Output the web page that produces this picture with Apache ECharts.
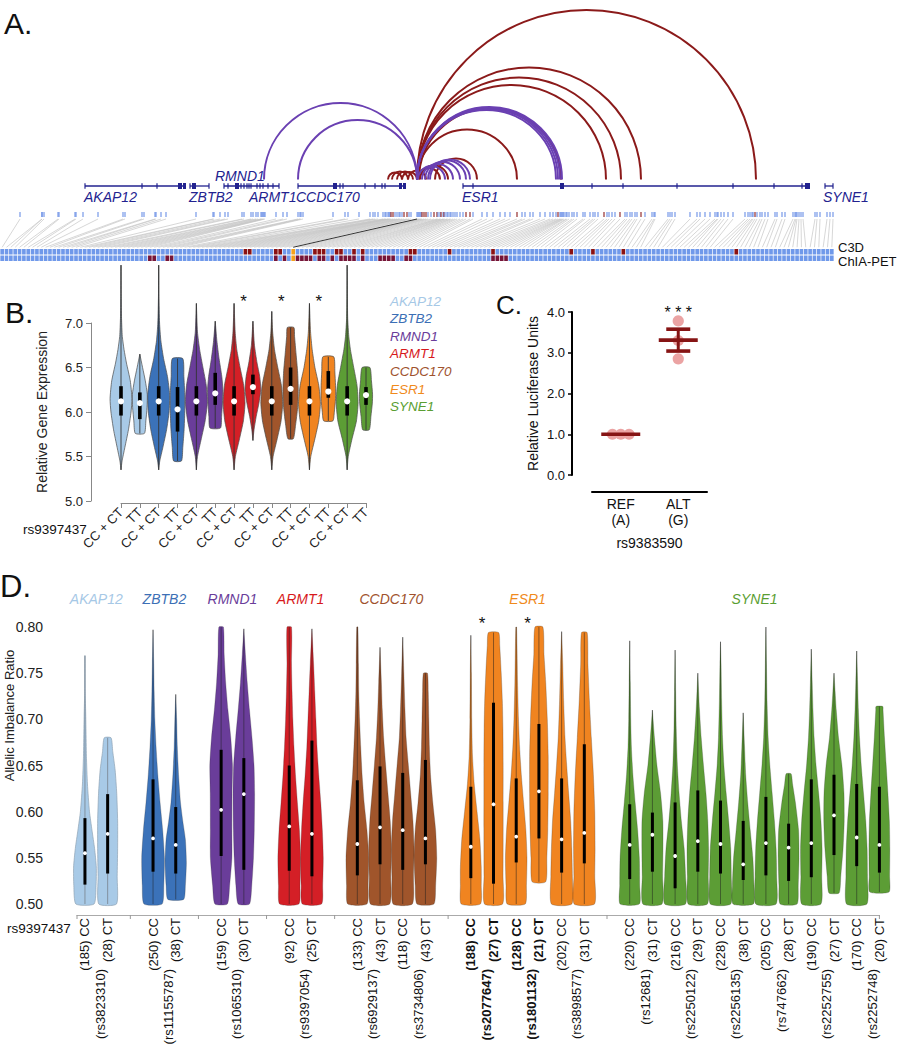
<!DOCTYPE html>
<html><head><meta charset="utf-8">
<script src="https://cdn.jsdelivr.net/npm/echarts@6/dist/echarts.min.js"></script>
<style>html,body{margin:0;padding:0;background:#fff}#c{width:899px;height:1050px}</style>
</head><body><div id="c"></div>
<script>
// ================= DATA =================
const geneNames = ['AKAP12','ZBTB2','RMND1','ARMT1','CCDC170','ESR1','SYNE1'];

// ---- Panel A (positions along the locus, arbitrary kb units) ----
const geneSpans = [[85,186],[190,209],[224,279],[298,406],[463,810],[825,833]];
const geneLabels = [['AKAP12',84,0],['ZBTB2',189,0],['RMND1',215,1],['ARMT1',249,0],['CCDC170',296,0],['ESR1',462,0],['SYNE1',823,0]];
const exonTicks = [85,142,157,190,209,224,228,241,244,247,249,251,257,260,263,268,273,279,298,340,343,365,375,382,385,463,473,592,623,677,733,774,802,825,833];
const exonBlocks = [[178,182],[183,186],[192,196],[235,239],[333,337],[399,402],[403,406],[560,564],[805,810]];
// loops: [anchor1, anchor2, source]  source 0 = C3D, 1 = ChIA-PET
const loops = [
  [417,756,0],[417,641,0],[417,621,0],[417,606,0],[417,517,0],[419,561,0],
  [435,477,0],[420,448,0],[417,440,0],[388,402,0],[392,408,0],[397,413,0],[402,417,0],[408,426,0],
  [264,417,1],[298,417,1],[417,556,1],[417,558,1],[417,560,1],[417,562,1],
  [430,470,1],[428,466,1],[425,460,1],[422,453,1],[418,445,1]
];
const snpPos = [
  20,42,42,44,58,59,75,76,83,98,123,125,142,144,155,156,161,166,196,213,214,220,225,228,242,244,251,253,256,258,261,262,263,264,
  265,276,283,287,298,300,301,303,333,345,348,359,370,373,375,378,383,385,386,388,389,390,
  391,393,395,397,399,400,402,404,407,409,411,
  417,
  418,419,420,421,422,424,426,428,431,434,437,438,440,441,443,444,445,447,448,450,451,453,455,457,460,463,466,470,473,482,487,493,500,505,510,
  517,
  522,525,530,533,540,545,550,553,556,
  558,
  560,561,562,563,564,566,567,569,572,574,577,583,585,590,593,595,598,
  604,
  607,609,612,615,
  620,
  625,627,630,632,635,637,
  641,
  645,652,654,655,668,670,672,675,690,697,700,705,710,715,717,718,721,724,728,733,745,748,750,752,753,
  755,
  757,760,762,765,768,775,777,782,785,793,795,796,797,799,801,803,815,817,820,827,830,833
];
const trackNames = ['C3D','ChIA-PET'];
const c3dHits = [56,57,63,64,72,73,74,77,78,81,83,94,95,103,113,131,136,143,169];
const chiaHits = [34,35,38,39,63,65,68,69,70,71,73,74,76,78,79,80,81,83,87,88,89,90,93,94,113,114,115,116];
const leadSnp = 67;

// ---- Panel B ----
const bLabels = ['CC + CT','TT','CC + CT','TT','CC + CT','TT','CC + CT','TT','CC + CT','TT','CC + CT','TT','CC + CT','TT'];
const bGene = [0,0,1,1,2,2,3,3,4,4,5,5,6,6];
const bMedian = [6.12,6.10,6.12,6.03,6.12,6.21,6.12,6.28,6.12,6.26,6.12,6.23,6.12,6.19];
const bQ1 = [5.96,5.92,5.96,5.78,5.96,6.08,5.96,6.20,5.96,6.08,5.96,6.16,5.96,6.08];
const bQ3 = [6.29,6.22,6.29,6.28,6.29,6.44,6.29,6.42,6.29,6.50,6.29,6.46,6.29,6.28];
const bSigGenes = [3,4,5];
// violin outlines: [value, relative density]
const bShapes = [
  [[5.35,0],[5.45,0.1],[5.6,0.35],[5.8,0.68],[6.0,0.92],[6.15,1.0],[6.35,0.85],[6.55,0.5],[6.7,0.28],[6.85,0.12],[7.05,0.05],[7.3,0.02],[7.65,0]],
  [[5.76,0.42],[5.9,0.55],[6.05,0.66],[6.2,0.68],[6.35,0.5],[6.5,0.25],[6.65,0]],
  [[5.35,0],[5.45,0.1],[5.6,0.38],[5.8,0.72],[6.0,0.95],[6.2,1.0],[6.4,0.8],[6.6,0.45],[6.8,0.2],[7.0,0.08],[7.3,0.02],[7.65,0]],
  [[5.45,0.36],[5.6,0.48],[5.8,0.6],[6.0,0.66],[6.2,0.66],[6.4,0.58],[6.6,0.48]],
  [[5.35,0],[5.5,0.1],[5.7,0.45],[5.9,0.8],[6.1,1.0],[6.3,0.9],[6.5,0.6],[6.7,0.3],[6.9,0.1],[7.22,0]],
  [[5.82,0.48],[5.95,0.58],[6.1,0.66],[6.25,0.7],[6.4,0.6],[6.6,0.35],[6.8,0.15],[7.02,0]],
  [[5.35,0],[5.5,0.12],[5.7,0.5],[5.9,0.85],[6.1,1.0],[6.3,0.88],[6.5,0.55],[6.7,0.25],[6.9,0.1],[7.22,0]],
  [[5.68,0],[5.8,0.1],[5.95,0.3],[6.1,0.55],[6.25,0.72],[6.4,0.62],[6.55,0.38],[6.75,0.14],[7.02,0]],
  [[5.35,0],[5.5,0.12],[5.7,0.5],[5.9,0.85],[6.1,1.0],[6.3,0.88],[6.5,0.55],[6.7,0.25],[6.9,0.08],[7.13,0]],
  [[5.7,0.25],[5.85,0.45],[6.05,0.64],[6.25,0.7],[6.45,0.64],[6.65,0.5],[6.85,0.36],[6.95,0.3]],
  [[5.35,0],[5.5,0.12],[5.7,0.5],[5.9,0.85],[6.1,1.0],[6.3,0.85],[6.5,0.5],[6.7,0.25],[6.9,0.1],[7.22,0]],
  [[5.9,0.42],[6.0,0.55],[6.15,0.66],[6.3,0.66],[6.45,0.6],[6.62,0.5]],
  [[5.35,0],[5.5,0.1],[5.7,0.45],[5.9,0.85],[6.1,1.0],[6.3,0.9],[6.5,0.6],[6.7,0.3],[6.85,0.15],[7.05,0.05],[7.3,0.02],[7.65,0]],
  [[5.8,0.3],[5.95,0.45],[6.1,0.58],[6.2,0.6],[6.35,0.5],[6.5,0.36]]
];

// ---- Panel C ----
const lucCats = ['REF\n(A)','ALT\n(G)'];
const lucREF = [1.0,1.0,1.0];
const lucALT = [3.78,3.30,2.85];

// ---- Panel D ----
const dPairGene = [0,1,2,3,4,4,5,5,5,6,6,6,6,6,6];
const dPairRs = ['rs3823310','rs11155787','rs1065310','rs9397054','rs6929137','rs3734806','rs2077647','rs1801132','rs3898577','rs12681','rs2250122','rs2256135','rs747662','rs2252755','rs2252748'];
const dNcc = [185,250,159,92,133,118,188,128,202,220,216,228,205,190,170];
const dNct = [28,38,30,25,43,43,27,21,31,31,29,38,28,27,20];
const dSigPairs = [6,7];
const dMedian = [0.555,0.576, 0.571,0.564, 0.602,0.619, 0.584,0.576, 0.565,0.583, 0.580,0.571, 0.562,0.608, 0.573,0.622, 0.570,0.577, 0.564,0.575, 0.552,0.568, 0.565,0.543, 0.566,0.561, 0.566,0.596, 0.572,0.564];
const dQ1 = [0.521,0.533, 0.535,0.533, 0.552,0.537, 0.536,0.530, 0.531,0.543, 0.537,0.543, 0.528,0.522, 0.545,0.571, 0.534,0.544, 0.527,0.535, 0.517,0.535, 0.533,0.526, 0.531,0.525, 0.529,0.553, 0.541,0.534];
const dQ3 = [0.593,0.619, 0.635,0.605, 0.667,0.658, 0.650,0.677, 0.634,0.649, 0.642,0.656, 0.627,0.718, 0.636,0.695, 0.636,0.673, 0.608,0.599, 0.610,0.623, 0.612,0.590, 0.616,0.587, 0.635,0.640, 0.630,0.627];
const dShapes = [
  [[0.5,0.8],[0.52,0.98],[0.54,1.0],[0.56,0.85],[0.58,0.62],[0.6,0.4],[0.63,0.22],[0.66,0.13],[0.69,0.09],[0.71,0.06],[0.73,0.02],[0.769,0]],
  [[0.5,0.78],[0.53,0.84],[0.56,0.88],[0.59,0.88],[0.62,0.8],[0.645,0.66],[0.665,0.45],[0.68,0.3]],
  [[0.5,0.8],[0.52,0.95],[0.55,1.0],[0.58,0.85],[0.61,0.62],[0.64,0.42],[0.67,0.27],[0.7,0.16],[0.73,0.1],[0.76,0.06],[0.797,0]],
  [[0.505,0.7],[0.52,0.85],[0.545,0.94],[0.57,0.85],[0.59,0.62],[0.61,0.42],[0.64,0.25],[0.67,0.14],[0.7,0.08],[0.727,0]],
  [[0.5,0.55],[0.52,0.75],[0.55,0.95],[0.58,0.95],[0.62,0.96],[0.65,1.0],[0.68,0.85],[0.71,0.6],[0.74,0.4],[0.77,0.27],[0.8,0.2]],
  [[0.5,0.5],[0.52,0.7],[0.55,0.85],[0.58,0.92],[0.62,0.95],[0.65,0.9],[0.68,0.72],[0.71,0.5],[0.74,0.3],[0.77,0.14],[0.798,0]],
  [[0.5,0.85],[0.52,0.95],[0.55,1.0],[0.58,0.9],[0.61,0.72],[0.64,0.55],[0.67,0.42],[0.7,0.32],[0.73,0.25],[0.76,0.2],[0.8,0.2]],
  [[0.5,0.85],[0.52,0.95],[0.55,1.0],[0.58,0.92],[0.61,0.78],[0.64,0.6],[0.67,0.45],[0.7,0.35],[0.73,0.25],[0.76,0.15],[0.798,0]],
  [[0.5,0.85],[0.52,0.95],[0.55,1.0],[0.58,0.85],[0.61,0.6],[0.64,0.42],[0.67,0.3],[0.7,0.2],[0.73,0.13],[0.76,0.1],[0.8,0.05]],
  [[0.5,0.85],[0.53,0.95],[0.56,1.0],[0.59,0.9],[0.62,0.7],[0.65,0.5],[0.68,0.32],[0.71,0.2],[0.74,0.12],[0.778,0]],
  [[0.5,0.85],[0.53,0.95],[0.56,1.0],[0.59,0.9],[0.62,0.7],[0.65,0.5],[0.68,0.3],[0.71,0.2],[0.75,0.1],[0.789,0]],
  [[0.5,0.75],[0.52,0.9],[0.55,1.0],[0.58,0.9],[0.61,0.65],[0.64,0.45],[0.67,0.35],[0.7,0.3],[0.73,0.25],[0.75,0.18]],
  [[0.5,0.85],[0.52,0.92],[0.54,0.92],[0.57,0.8],[0.6,0.55],[0.63,0.3],[0.66,0.15],[0.7,0.08],[0.75,0.05],[0.791,0]],
  [[0.5,0.8],[0.53,0.84],[0.57,0.85],[0.61,0.85],[0.65,0.85],[0.69,0.83],[0.72,0.78],[0.75,0.68],[0.78,0.55],[0.794,0.45]],
  [[0.5,0.8],[0.52,0.9],[0.55,0.95],[0.58,0.85],[0.61,0.65],[0.64,0.45],[0.67,0.3],[0.7,0.2],[0.74,0.12],[0.78,0.07],[0.8,0.03]],
  [[0.524,0.6],[0.55,0.7],[0.58,0.78],[0.62,0.82],[0.66,0.82],[0.7,0.74],[0.74,0.6],[0.77,0.45],[0.8,0.35]],
  [[0.5,0.9],[0.53,0.95],[0.56,0.9],[0.59,0.8],[0.62,0.62],[0.65,0.45],[0.68,0.3],[0.72,0.18],[0.76,0.1],[0.795,0]],
  [[0.5,0.9],[0.53,0.92],[0.56,0.95],[0.6,0.92],[0.64,0.8],[0.68,0.62],[0.72,0.45],[0.76,0.32],[0.794,0.25]],
  [[0.5,0.85],[0.52,0.88],[0.55,0.85],[0.58,0.7],[0.61,0.48],[0.64,0.28],[0.67,0.15],[0.7,0.09],[0.74,0.05],[0.785,0]],
  [[0.5,0.85],[0.53,0.9],[0.56,0.93],[0.59,0.92],[0.62,0.72],[0.65,0.4],[0.68,0.18],[0.71,0]],
  [[0.5,0.92],[0.53,0.92],[0.56,0.8],[0.59,0.55],[0.62,0.35],[0.65,0.2],[0.69,0.1],[0.73,0.05],[0.775,0]],
  [[0.5,0.85],[0.53,0.92],[0.56,0.95],[0.59,0.88],[0.62,0.72],[0.65,0.5],[0.68,0.3],[0.71,0.15],[0.75,0]],
  [[0.5,0.9],[0.53,0.95],[0.56,0.9],[0.59,0.72],[0.62,0.5],[0.65,0.3],[0.68,0.18],[0.72,0.1],[0.76,0.05],[0.784,0]],
  [[0.5,0.9],[0.52,0.95],[0.55,0.85],[0.58,0.62],[0.61,0.4],[0.64,0.22],[0.67,0.12],[0.707,0]],
  [[0.5,0.9],[0.53,0.95],[0.56,0.9],[0.59,0.75],[0.62,0.55],[0.65,0.35],[0.68,0.2],[0.72,0.1],[0.76,0.05],[0.8,0]],
  [[0.5,0.75],[0.52,0.85],[0.55,0.92],[0.58,0.88],[0.61,0.6],[0.63,0.35],[0.641,0.22]],
  [[0.5,0.85],[0.53,0.92],[0.56,0.95],[0.59,0.85],[0.62,0.65],[0.65,0.42],[0.68,0.25],[0.71,0.15],[0.74,0.08],[0.776,0]],
  [[0.512,0.45],[0.53,0.6],[0.56,0.8],[0.59,0.9],[0.62,0.88],[0.65,0.7],[0.68,0.4],[0.71,0.2],[0.73,0.1],[0.75,0]],
  [[0.5,0.9],[0.53,0.95],[0.56,0.92],[0.59,0.8],[0.62,0.6],[0.65,0.4],[0.68,0.25],[0.71,0.15],[0.74,0.08],[0.774,0]],
  [[0.513,0.85],[0.53,0.9],[0.56,0.92],[0.59,0.88],[0.62,0.75],[0.65,0.6],[0.68,0.45],[0.71,0.32],[0.714,0.3]]
];

// ================= STYLE =================
const FONT = '"Liberation Sans", Arial, Helvetica, sans-serif';
const geneColors = ['#a8cae7','#3b72b9','#6a3d9a','#d41f26','#a0552b','#f08420','#5c9d35'];
const legendColors = ['#a6c8e6','#3c6fb5','#6a3d9a','#d7191c','#a0522d','#f08a1c','#5a9e32'];
const NAVY = '#22228f';
const RED_LOOP = '#8b1a1a', PURPLE_LOOP = '#6a40b2';
const D_XMIN = -0.35;
const STAR_B = 7.28, STAR_C = 4.05, STAR_D = 0.8075, HEAD_D = 0.83;

// ================= HELPERS =================
function txt(x, y, text, o) {
  o = o || {};
  return {type:'text', x:x, y:y, rotation:o.rotation||0, silent:true,
    style:{text:text, fill:o.fill||'#1a1a1a', fontSize:o.size||13, fontFamily:FONT,
      fontStyle:o.italic?'italic':'normal', fontWeight:o.bold?'bold':'normal',
      align:o.align||'left', verticalAlign:o.va||'middle', textAlign:o.align||'left', textVerticalAlign:o.va||'middle'}};
}
function violin(api, x, knots, med, q1, q3, fill, stroke, scale, barW, dotR, needle) {
  const slot = api.size([1, 0])[0];
  const cx = api.coord([x, knots[0][0]])[0];
  const right = knots.map(k => [cx + k[1]*slot*scale, api.coord([x, k[0]])[1]]);
  const left = knots.slice().reverse().map(k => [cx - k[1]*slot*scale, api.coord([x, k[0]])[1]]);
  const pLo = api.coord([x, knots[0][0]]), pHi = api.coord([x, knots[knots.length-1][0]]);
  const pQ1 = api.coord([x, q1]), pQ3 = api.coord([x, q3]), pM = api.coord([x, med]);
  return {type:'group', children:[
    {type:'polygon', shape:{points:right.concat(left), smooth:0.2}, style:{fill:fill, stroke:stroke, lineWidth:0.7}},
    {type:'line', shape:{x1:cx, y1:pLo[1], x2:cx, y2:pHi[1]}, style:{stroke:needle, lineWidth:0.9}},
    {type:'line', shape:{x1:cx, y1:pQ1[1], x2:cx, y2:pQ3[1]}, style:{stroke:'#000', lineWidth:barW}},
    {type:'circle', shape:{cx:cx, cy:pM[1], r:dotR}, style:{fill:'#fff'}}
  ]};
}
// panel D layout: slot index of each violin (pairs consecutive, one empty slot between genes)
function dSlot(j) { const p = Math.floor(j/2); return 2*p + dPairGene[p] + (j % 2); }
const dSepSlots = [D_XMIN];
for (let p = 1; p < dPairGene.length; p++) if (dPairGene[p] !== dPairGene[p-1]) dSepSlots.push(2*p + dPairGene[p] - 1);
dSepSlots.push(dSlot(dMedian.length - 1));

const cellData = [];
for (let i = 0; i < snpPos.length; i++) {
  cellData.push([i, 0, i === leadSnp ? 2 : (c3dHits.indexOf(i) >= 0 ? 1 : 0)]);
  cellData.push([i, 1, i === leadSnp ? 2 : (chiaHits.indexOf(i) >= 0 ? 1 : 0)]);
}

// ================= OPTION =================
const option = {
  animation:false,
  textStyle:{fontFamily:FONT},
  grid:[
    {left:0, top:0, width:899, height:186, outerBoundsMode:'none'},
    {left:0, top:248.5, width:834, height:13, outerBoundsMode:'none'},
    {left:121, top:323, width:245, height:178, outerBoundsMode:'none'},
    {left:592, top:312, width:115, height:163, outerBoundsMode:'none'},
    {left:77, top:627, width:802.4, height:277, outerBoundsMode:'none'}
  ],
  xAxis:[
    {gridIndex:0, type:'value', min:0, max:899, show:false},
    {gridIndex:1, type:'value', min:-0.5, max:snpPos.length-0.5, show:false},
    {gridIndex:2, type:'value', min:0, max:13, interval:1, offset:2, splitLine:{show:false},
      axisLine:{onZero:false, lineStyle:{color:'#888', width:1}}, axisTick:{length:5, lineStyle:{color:'#888'}},
      axisLabel:{rotate:45, margin:7, fontSize:13, color:'#222', fontFamily:FONT, hideOverlap:false, showMinLabel:true, showMaxLabel:true,
        formatter:v => bLabels[Math.round(v)] || ''}},
    {gridIndex:3, type:'category', data:lucCats, offset:17,
      axisLine:{onZero:false, lineStyle:{color:'#000', width:2}}, axisTick:{alignWithLabel:true, length:4, lineStyle:{color:'#000', width:2}},
      axisLabel:{fontSize:14, color:'#111', lineHeight:16, margin:4, fontFamily:FONT, interval:0},
      name:'rs9383590', nameLocation:'middle', nameGap:44, nameMoveOverlap:false, nameTextStyle:{fontSize:14, color:'#111', fontFamily:FONT}},
    {gridIndex:4, type:'value', min:D_XMIN, max:dSlot(dMedian.length-1), offset:11, splitLine:{show:false},
      axisLine:{onZero:false, lineStyle:{color:'#aaa', width:1}}, axisTick:{show:false}, axisLabel:{show:false}}
  ],
  yAxis:[
    {gridIndex:0, type:'value', min:0, max:1, show:false},
    {gridIndex:1, type:'category', data:trackNames, inverse:true, show:false},
    {gridIndex:2, type:'value', min:5, max:7, interval:0.5, offset:30, splitLine:{show:false},
      axisLine:{show:true, onZero:false, lineStyle:{color:'#888'}}, axisTick:{show:true, length:5, lineStyle:{color:'#888'}},
      axisLabel:{formatter:v => v.toFixed(1), fontSize:13, color:'#222', margin:8, fontFamily:FONT, showMinLabel:true, showMaxLabel:true},
      name:'Relative Gene Expression', nameLocation:'middle', nameRotate:90, nameGap:42,
      nameTextStyle:{fontSize:14, color:'#222', fontFamily:FONT}},
    {gridIndex:3, type:'value', min:0, max:4, interval:1, offset:20, splitLine:{show:false},
      axisLine:{show:true, onZero:false, lineStyle:{color:'#000', width:2}}, axisTick:{show:true, length:4, lineStyle:{color:'#000', width:1.5}},
      axisLabel:{formatter:v => v.toFixed(1), fontSize:13, color:'#111', margin:7, fontFamily:FONT, showMinLabel:true, showMaxLabel:true},
      name:'Relative Luciferase Units', nameLocation:'middle', nameRotate:90, nameGap:32,
      nameTextStyle:{fontSize:14, color:'#111', fontFamily:FONT}},
    {gridIndex:4, type:'value', min:0.5, max:0.8, interval:0.05, splitLine:{show:false},
      axisLine:{show:false, onZero:false}, axisTick:{show:false},
      axisLabel:{formatter:v => v.toFixed(2), fontSize:14, color:'#222', margin:34, fontFamily:FONT, showMinLabel:true, showMaxLabel:true}}
  ],
  series:[
    // ---- A: loops ----
    {type:'custom', xAxisIndex:0, yAxisIndex:0, data:loops, silent:true, z:3,
      renderItem:(params, api) => {
        const p1 = api.coord([api.value(0), 0]), p2 = api.coord([api.value(1), 0]);
        return {type:'arc', shape:{cx:(p1[0]+p2[0])/2, cy:p1[1]-6.5, r:(p2[0]-p1[0])/2, startAngle:Math.PI, endAngle:2*Math.PI, clockwise:true},
          style:{stroke: api.value(2) ? PURPLE_LOOP : RED_LOOP, fill:'none', lineWidth:2}};
      }},
    // ---- A: gene bodies ----
    {type:'custom', xAxisIndex:0, yAxisIndex:0, data:geneSpans.map(s => [s[0], 0, s[1]]), silent:true, z:2,
      renderItem:(params, api) => {
        const p1 = api.coord([api.value(0), 0]), p2 = api.coord([api.value(2), 0]);
        return {type:'line', shape:{x1:p1[0], y1:p1[1], x2:p2[0], y2:p2[1]}, style:{stroke:NAVY, lineWidth:1.3}};
      }},
    {type:'custom', xAxisIndex:0, yAxisIndex:0, data:exonTicks.map(p => [p, 0]), silent:true, z:2,
      renderItem:(params, api) => {
        const p = api.coord([api.value(0), 0]);
        return {type:'line', shape:{x1:p[0], y1:p[1]-2.8, x2:p[0], y2:p[1]+2.8}, style:{stroke:NAVY, lineWidth:1.2}};
      }},
    {type:'custom', xAxisIndex:0, yAxisIndex:0, data:exonBlocks.map(b => [b[0], 0, b[1]]), silent:true, z:2,
      renderItem:(params, api) => {
        const p1 = api.coord([api.value(0), 0]), p2 = api.coord([api.value(2), 0]);
        return {type:'rect', shape:{x:p1[0], y:p1[1]-3, width:Math.max(1.5, p2[0]-p1[0]), height:6}, style:{fill:NAVY}};
      }},
    {type:'custom', xAxisIndex:0, yAxisIndex:0, data:geneLabels.map(g => [g[1], 0, g[2]]), silent:true, z:2,
      renderItem:(params, api) => {
        const p = api.coord([api.value(0), 0]);
        const up = api.value(2) === 1;
        return txt(p[0], p[1] + (up ? -10 : 11), geneLabels[params.dataIndex][0], {fill:NAVY, size:14, italic:true});
      }},
    // ---- A: SNP ticks ----
    {type:'custom', xAxisIndex:0, yAxisIndex:0, data:snpPos.map((p, i) => [p, 0, c3dHits.indexOf(i) >= 0 ? 1 : 0]), silent:true, z:2,
      renderItem:(params, api) => {
        const p = api.coord([api.value(0), 0]);
        return {type:'line', shape:{x1:p[0], y1:p[1]+26, x2:p[0], y2:p[1]+31}, style:{stroke: api.value(2) ? '#8b1a1a' : '#6a8fe6', lineWidth:1.1}};
      }},
    // ---- A: cells ----
    {type:'custom', xAxisIndex:1, yAxisIndex:1, data:cellData, silent:true,
      renderItem:(params, api) => {
        const c = api.coord([api.value(0), api.value(1)]);
        const s = api.size([1, 1]);
        const st = api.value(2);
        const row = api.value(1);
        const col = st === 2 ? '#f5a21c' : (st === 1 ? (row === 0 ? '#8a1212' : '#761538') : '#7099ea');
        return {type:'rect', shape:{x:c[0]-s[0]/2+0.35, y:c[1]-s[1]/2+0.4, width:s[0]-0.7, height:s[1]-0.8}, style:{fill:col}};
      }},
    // ---- B: violins ----
    {type:'custom', xAxisIndex:2, yAxisIndex:2, data:bMedian.map((m, i) => [i, m]), silent:true, clip:false,
      renderItem:(params, api) => {
        const i = params.dataIndex;
        return violin(api, i, bShapes[i], bMedian[i], bQ1[i], bQ3[i], geneColors[bGene[i]], '#4a4a4a', 0.58, 3.6, 3.1, '#333');
      }},
    {type:'custom', xAxisIndex:2, yAxisIndex:2, data:bSigGenes.map(g => [2*g + 0.5, STAR_B]), silent:true, clip:false,
      renderItem:(params, api) => {
        const p = api.coord([api.value(0), api.value(1)]);
        return txt(p[0], p[1]+3, '*', {size:17, align:'center', fill:'#111'});
      }},
    // ---- C: luciferase ----
    {type:'custom', xAxisIndex:3, yAxisIndex:3, data:[[0, 1],[1, 1]], silent:true, clip:false,
      renderItem:(params, api) => {
        const g = params.dataIndex;
        const vals = g === 0 ? lucREF : lucALT;
        const n = vals.length;
        const mean = vals.reduce((a, b) => a + b, 0) / n;
        const sd = Math.sqrt(vals.reduce((a, b) => a + (b - mean) * (b - mean), 0) / (n - 1));
        const sem = sd / Math.sqrt(n);
        const cx = api.coord([g, mean])[0];
        const py = vals.map(v => api.coord([g, v])[1]);
        const kids = [];
        py.forEach((y, i) => {
          const peers = []; py.forEach((y2, j) => { if (Math.abs(y2 - y) < 6) peers.push(j); });
          const rank = peers.indexOf(i);
          const off = (rank - (peers.length - 1) / 2) * 8.3;
          kids.push({type:'circle', shape:{cx:cx + off, cy:y, r:5.6}, style:{fill:'#eba3a3'}});
        });
        const pm = api.coord([g, mean])[1];
        const color = '#861414';
        kids.push({type:'line', shape:{x1:cx-19.5, y1:pm, x2:cx+19.5, y2:pm}, style:{stroke:color, lineWidth:3.6}});
        if (sem > 0) {
          const pt = api.coord([g, mean + sem])[1], pb = api.coord([g, mean - sem])[1];
          kids.push({type:'line', shape:{x1:cx, y1:pt, x2:cx, y2:pb}, style:{stroke:color, lineWidth:3}});
          kids.push({type:'line', shape:{x1:cx-12, y1:pt, x2:cx+12, y2:pt}, style:{stroke:color, lineWidth:3.6}});
          kids.push({type:'line', shape:{x1:cx-12, y1:pb, x2:cx+12, y2:pb}, style:{stroke:color, lineWidth:3.6}});
        }
        return {type:'group', children:kids};
      }},
    {type:'custom', xAxisIndex:3, yAxisIndex:3, data:[[1, STAR_C]], silent:true, clip:false,
      renderItem:(params, api) => {
        const p = api.coord([api.value(0), api.value(1)]);
        return txt(p[0], p[1]+3, '* * *', {size:16, align:'center', fill:'#111'});
      }},
    // ---- D: violins ----
    {type:'custom', xAxisIndex:4, yAxisIndex:4, data:dMedian.map((m, j) => [dSlot(j), m]), silent:true, clip:false,
      renderItem:(params, api) => {
        const j = params.dataIndex;
        const g = dPairGene[Math.floor(j/2)];
        return violin(api, dSlot(j), dShapes[j], dMedian[j], dQ1[j], dQ3[j], geneColors[g],
          g === 0 ? '#8fa3b5' : 'rgba(40,40,40,0.35)', 0.5, 3, 1.9, g === 0 ? '#7d8a96' : 'rgba(30,30,30,0.55)');
      }},
    // D genotype labels
    {type:'custom', xAxisIndex:4, yAxisIndex:4, data:dMedian.map((m, j) => [dSlot(j), 0.5]), silent:true, clip:false,
      renderItem:(params, api) => {
        const j = params.dataIndex, p = Math.floor(j/2), ct = j % 2;
        const pt = api.coord([api.value(0), 0.5]);
        const t = '(' + (ct ? dNct[p] : dNcc[p]) + ') ' + (ct ? 'CT' : 'CC');
        return txt(pt[0], pt[1] + 14, t, {rotation:Math.PI/2, align:'right', size:13, bold:dSigPairs.indexOf(p) >= 0, fill:'#111'});
      }},
    // D SNP id labels
    {type:'custom', xAxisIndex:4, yAxisIndex:4, data:dPairRs.map((r, p) => [dSlot(2*p) + 0.5, 0.5]), silent:true, clip:false,
      renderItem:(params, api) => {
        const p = params.dataIndex;
        const pt = api.coord([api.value(0), 0.5]);
        return txt(pt[0] + 4, pt[1] + 65, '(' + dPairRs[p] + ')', {rotation:Math.PI/2, align:'right', size:13, bold:dSigPairs.indexOf(p) >= 0, fill:'#111'});
      }},
    // D gene headers
    {type:'custom', xAxisIndex:4, yAxisIndex:4, data:geneNames.map((g, gi) => {
        let lo = Infinity, hi = -Infinity;
        dPairGene.forEach((pg, p) => { if (pg === gi) { lo = Math.min(lo, dSlot(2*p)); hi = Math.max(hi, dSlot(2*p+1)); } });
        return [(lo + hi) / 2, HEAD_D];
      }), silent:true, clip:false,
      renderItem:(params, api) => {
        const p = api.coord([api.value(0), api.value(1)]);
        return txt(p[0], p[1], geneNames[params.dataIndex], {size:14, italic:true, align:'center', fill:legendColors[params.dataIndex]});
      }},
    // D stars
    {type:'custom', xAxisIndex:4, yAxisIndex:4, data:dSigPairs.map(p => [dSlot(2*p) + 0.5, STAR_D]), silent:true, clip:false,
      renderItem:(params, api) => {
        const p = api.coord([api.value(0), api.value(1)]);
        return txt(p[0], p[1]+3, '*', {size:17, align:'center', fill:'#111'});
      }},
    // D separator ticks
    {type:'custom', xAxisIndex:4, yAxisIndex:4, data:dSepSlots.map(s => [s, 0.5]), silent:true, clip:false,
      renderItem:(params, api) => {
        const p = api.coord([api.value(0), 0.5]);
        return {type:'line', shape:{x1:p[0], y1:p[1]+11, x2:p[0], y2:p[1]+15}, style:{stroke:'#999', lineWidth:1}};
      }}
  ]
};

const chart = echarts.init(document.getElementById('c'), null, {renderer:'svg', width:899, height:1050});
chart.setOption(option);

// ---- static texts + fan lines (second pass, positions from the axes) ----
const dMid = chart.convertToPixel({xAxisIndex:4, yAxisIndex:4}, [D_XMIN, 0.65]);
const els = [
  txt(4, 23, 'A.', {size:30, fill:'#111'}),
  txt(5, 312, 'B.', {size:30, fill:'#111'}),
  txt(496, 305, 'C.', {size:26, fill:'#111'}),
  txt(0, 586, 'D.', {size:31, fill:'#111'}),
  txt(23, 529, 'rs9397437', {size:13.5, fill:'#111'}),
  txt(7, 928, 'rs9397437', {size:13.5, fill:'#111'}),
  txt(838, 247, trackNames[0], {size:13, fill:'#111'}),
  txt(838, 261, trackNames[1], {size:13, fill:'#111'}),
  txt(9, dMid[1] - 50, 'Allelic Imbalance Ratio', {size:13, fill:'#222', align:'center', rotation:Math.PI/2})
];
geneNames.forEach((g, i) => els.push(txt(390, 301 + i*17.6, g, {size:13.5, italic:true, fill:legendColors[i]})));
snpPos.forEach((p, i) => {
  const t = chart.convertToPixel({xAxisIndex:0, yAxisIndex:0}, [p, 0]);
  const c = chart.convertToPixel({xAxisIndex:1, yAxisIndex:1}, [i, 0]);
  const lead = i === leadSnp;
  els.push({type:'line', silent:true, z: lead ? 2 : 1,
    shape:{x1:t[0], y1:t[1]+33, x2:c[0], y2:c[1]-4.5},
    style:{stroke: lead ? '#333' : '#c6c6c6', lineWidth: lead ? 1 : 0.7}});
});
chart.setOption({graphic:{elements:els}});
</script></body></html>
